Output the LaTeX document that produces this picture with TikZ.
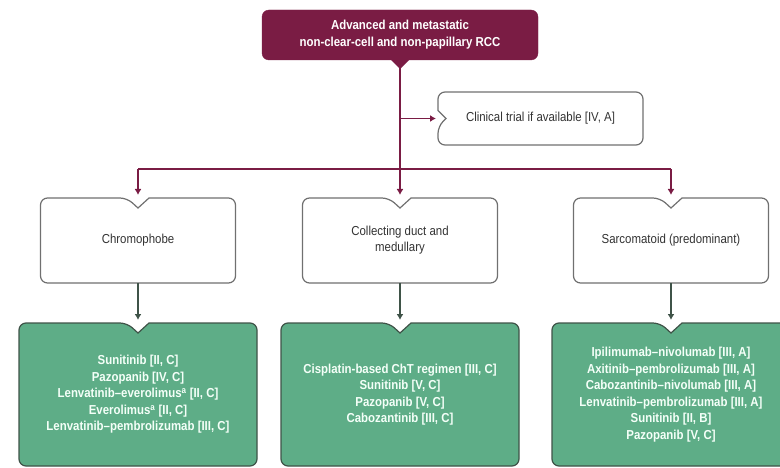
\documentclass[tikz,border=0pt]{standalone}
\usepackage{fontspec}
\setmainfont{Liberation Sans}[FakeStretch=0.88]
\usetikzlibrary{arrows.meta,backgrounds}

\definecolor{wine}{HTML}{7A1C44}
\definecolor{leaf}{HTML}{5EAD87}
\definecolor{leafedge}{HTML}{3F5348}
\definecolor{boxedge}{HTML}{707070}
\definecolor{ink}{HTML}{333333}
\definecolor{pale}{HTML}{F4FFF8}

% box outline with a V cut in the top edge
\newcommand{\topcut}[2]{%
  \begin{scope}[on background layer]
  \filldraw[#2] ([yshift=-10pt]#1.north) -- ([xshift=11pt]#1.north)
    [rounded corners=7pt] -- (#1.north east) -- (#1.south east)
    -- (#1.south west) -- (#1.north west)
    -- ([xshift=-11pt]#1.north) [sharp corners] -- cycle;
  \end{scope}}

\tikzset{
  headbox/.style={fill=wine, draw=wine, rounded corners=7pt, text=white,
    font=\bfseries\fontsize{13}{17}\selectfont, align=center,
    minimum width=276pt, minimum height=50pt, outer sep=0pt},
  trialbox/.style={text=ink, font=\fontsize{13}{15}\selectfont,
    minimum width=205pt, minimum height=53pt, outer sep=0pt},
  typebox/.style={text=ink, font=\fontsize{13}{16}\selectfont, align=center,
    minimum width=195pt, minimum height=85pt, outer sep=0pt},
  txbox/.style={text=pale, font=\bfseries\fontsize{13}{16.5}\selectfont, align=center,
    minimum width=238pt, minimum height=143pt, outer sep=0pt},
  wireline/.style={draw=wine, line width=1.3pt},
  stemline/.style={draw=leafedge, line width=1.3pt},
  tip/.style={-{Latex[length=6pt,width=7pt]}}
}

\begin{document}
\begin{tikzpicture}[x=1pt,y=-1pt]
\useasboundingbox (0,0) rectangle (780,468);

\node[headbox] (head) at (400,35) {Advanced and metastatic\\non-clear-cell and non-papillary RCC};
\fill[wine] ([xshift=-9pt]head.south) -- ([yshift=-9pt]head.south) -- ([xshift=9pt]head.south) -- cycle;

\node[trialbox] (trial) at (540.5,118.5) {Clinical trial if available [IV, A]};
\begin{scope}[on background layer]
\draw[draw=boxedge, line width=1.2pt] ([xshift=8pt]trial.west) -- ([yshift=8pt]trial.west)
  [rounded corners=7pt] -- (trial.north west) -- (trial.north east) -- (trial.south east)
  -- (trial.south west) -- ([yshift=-8pt]trial.west) [sharp corners] -- cycle;
\end{scope}

\node[typebox] (chromo) at (138,240.5) {Chromophobe};
\node[typebox] (duct) at (400,240.5) {Collecting duct and\\medullary};
\node[typebox] (sarco) at (671,240.5) {Sarcomatoid (predominant)};
\foreach \n in {chromo,duct,sarco}
  \topcut{\n}{fill=white, draw=boxedge, line width=1.2pt};

\node[txbox] (chromotx) at (138,394.5) {Sunitinib [II, C]\\Pazopanib [IV, C]\\Lenvatinib--everolimus\textsuperscript{a} [II, C]\\Everolimus\textsuperscript{a} [II, C]\\Lenvatinib--pembrolizumab [III, C]};
\node[txbox] (ducttx) at (400,394.5) {Cisplatin-based ChT regimen [III, C]\\Sunitinib [V, C]\\Pazopanib [V, C]\\Cabozantinib [III, C]};
\node[txbox] (sarcotx) at (671,394.5) {Ipilimumab--nivolumab [III, A]\\Axitinib--pembrolizumab [III, A]\\Cabozantinib--nivolumab [III, A]\\Lenvatinib--pembrolizumab [III, A]\\Sunitinib [II, B]\\Pazopanib [V, C]};
\foreach \n in {chromotx,ducttx,sarcotx}
  \topcut{\n}{fill=leaf, draw=leafedge, line width=1.2pt};

% connectors
\coordinate (split) at (400,169);
\draw[wireline] (head.south) -- (split);
\draw[wireline,tip,shorten >=2pt] (head.south |- trial.west) -- (trial.west);
\draw[wireline] (split -| chromo.north) -- (split -| sarco.north);
\foreach \n in {chromo,duct,sarco}
  \draw[wireline,tip,shorten >=3pt] (split -| \n.north) -- (\n.north);
\foreach \a/\b in {chromo/chromotx,duct/ducttx,sarco/sarcotx}
  \draw[stemline,tip,shorten >=3pt] (\a.south) -- (\b.north);

\end{tikzpicture}
\end{document}
